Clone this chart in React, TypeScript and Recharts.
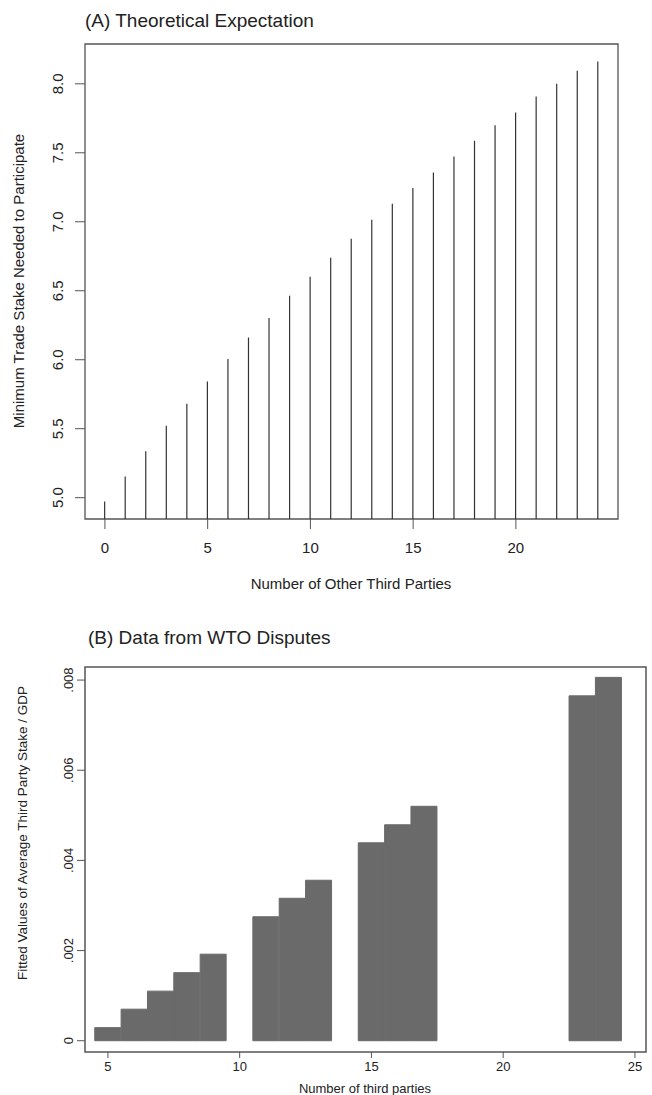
import { ComposedChart, Bar, XAxis, YAxis, ReferenceArea } from 'recharts';

// (A) theoretical expectation: one line per number of other third parties
const theoryParties = [0, 1, 2, 3, 4, 5, 6, 7, 8, 9, 10, 11, 12, 13, 14, 15, 16, 17, 18, 19, 20, 21, 22, 23, 24];
const theoryStake = [
  4.973, 5.154, 5.336, 5.522, 5.681, 5.843, 6.005, 6.161, 6.302, 6.464, 6.601, 6.739, 6.877,
  7.014, 7.13, 7.244, 7.357, 7.473, 7.587, 7.7, 7.792, 7.908, 8.0, 8.094, 8.162,
];
const theoryXTicks = [0, 5, 10, 15, 20];
const theoryYTicks = [5, 5.5, 6, 6.5, 7, 7.5, 8];

// (B) fitted values from WTO disputes
const wtoParties = [5, 6, 7, 8, 9, 11, 12, 13, 15, 16, 17, 23, 24];
const wtoStake = [
  0.00029, 0.0007, 0.0011, 0.00151, 0.00192, 0.00275, 0.00316, 0.00356, 0.00439, 0.00479, 0.0052,
  0.00765, 0.00806,
];
const wtoXTicks = [5, 10, 15, 20, 25];
const wtoYTicks = [0, 0.002, 0.004, 0.006, 0.008];

const FONT = '"Liberation Sans", Arial, Helvetica, sans-serif';
const TEXT = '#222';

const theoryData = theoryParties.map((n, i) => ({ n, stake: theoryStake[i] }));
const wtoData = wtoParties.map((n, i) => ({ n, stake: wtoStake[i] }));

const A_X = [-0.97, 24.97];
const A_Y = [4.8455, 8.2885];
const B_X = [4.13, 25.42];
const B_Y = [-0.00025, 0.00829];

function makeRotatedTick(textX: number, fontSize: number, fmt: (v: number) => string) {
  return (props: any) => {
    const { y, payload } = props;
    return (
      <text
        x={textX}
        y={y}
        transform={`rotate(-90, ${textX}, ${y})`}
        textAnchor="middle"
        fontSize={fontSize}
        fontFamily={FONT}
        fill={TEXT}
      >
        {fmt(payload.value)}
      </text>
    );
  };
}

const SpikeShape = (props: any) => {
  const cx = props.x + props.width / 2;
  return <line x1={cx} x2={cx} y1={props.y} y2={props.y + props.height} stroke="#333" strokeWidth={1.2} />;
};

const abs = (left: number, top: number, extra: any = {}): any => ({
  position: 'absolute',
  left,
  top,
  whiteSpace: 'nowrap',
  fontFamily: FONT,
  color: TEXT,
  lineHeight: 1,
  ...extra,
});

export default function App() {
  return (
    <div style={{ position: 'absolute', left: 0, top: 0, width: 652, height: 1095, background: '#fff' }}>
      <div style={abs(85, 20, { fontSize: 19, transform: 'translateY(-50%)' })}>(A) Theoretical Expectation</div>
      <div style={abs(18, 281, { fontSize: 15, transform: 'translate(-50%, -50%) rotate(-90deg)' })}>
        Minimum Trade Stake Needed to Participate
      </div>
      <div style={abs(351, 583, { fontSize: 15, transform: 'translate(-50%, -50%)' })}>
        Number of Other Third Parties
      </div>

      <div style={{ position: 'absolute', left: 0, top: 0 }}>
        <ComposedChart width={652} height={600} data={theoryData} margin={{ top: 44, right: 34, bottom: 0, left: 0 }}>
          <XAxis
            dataKey="n"
            type="number"
            domain={A_X}
            ticks={theoryXTicks}
            allowDataOverflow
            height={81}
            axisLine={false}
            tickSize={10}
            tickMargin={13}
            tickLine={{ stroke: '#555' }}
            tick={{ fontSize: 15, fontFamily: FONT, fill: TEXT }}
          />
          <YAxis
            type="number"
            domain={A_Y}
            ticks={theoryYTicks}
            allowDataOverflow
            width={85}
            axisLine={false}
            tickSize={10}
            tickLine={{ stroke: '#555' }}
            tick={makeRotatedTick(63, 15, (v) => v.toFixed(1))}
          />
          <Bar dataKey="stake" barSize={2} shape={SpikeShape} isAnimationActive={false} />
          <ReferenceArea x1={A_X[0]} x2={A_X[1]} y1={A_Y[0]} y2={A_Y[1]} fill="none" stroke="#555" strokeWidth={1.3} />
        </ComposedChart>
      </div>

      <div style={abs(88, 637, { fontSize: 19, transform: 'translateY(-50%)' })}>(B) Data from WTO Disputes</div>
      <div style={abs(23, 833, { fontSize: 13.5, transform: 'translate(-50%, -50%) rotate(-90deg)' })}>
        Fitted Values of Average Third Party Stake / GDP
      </div>
      <div style={abs(365, 1088, { fontSize: 13, transform: 'translate(-50%, -50%)' })}>Number of third parties</div>

      <div style={{ position: 'absolute', left: 0, top: 600 }}>
        <ComposedChart
          width={652}
          height={495}
          data={wtoData}
          barCategoryGap={0}
          barGap={0}
          margin={{ top: 67, right: 6, bottom: 0, left: 0 }}
        >
          <XAxis
            dataKey="n"
            type="number"
            domain={B_X}
            ticks={wtoXTicks}
            allowDataOverflow
            height={43}
            axisLine={false}
            tickSize={6}
            tickMargin={4}
            tickLine={{ stroke: '#555' }}
            tick={{ fontSize: 13, fontFamily: FONT, fill: TEXT }}
          />
          <YAxis
            type="number"
            domain={B_Y}
            ticks={wtoYTicks}
            allowDataOverflow
            width={85}
            axisLine={false}
            tickSize={8}
            tickLine={{ stroke: '#555' }}
            tick={makeRotatedTick(73, 13, (v) => (v === 0 ? '0' : v.toFixed(3).replace(/^0/, '')))}
          />
          <Bar dataKey="stake" fill="#6a6a6a" stroke="#6a6a6a" strokeWidth={1} isAnimationActive={false} />
          <ReferenceArea x1={B_X[0]} x2={B_X[1]} y1={B_Y[0]} y2={B_Y[1]} fill="none" stroke="#555" strokeWidth={1.5} />
        </ComposedChart>
      </div>
    </div>
  );
}
